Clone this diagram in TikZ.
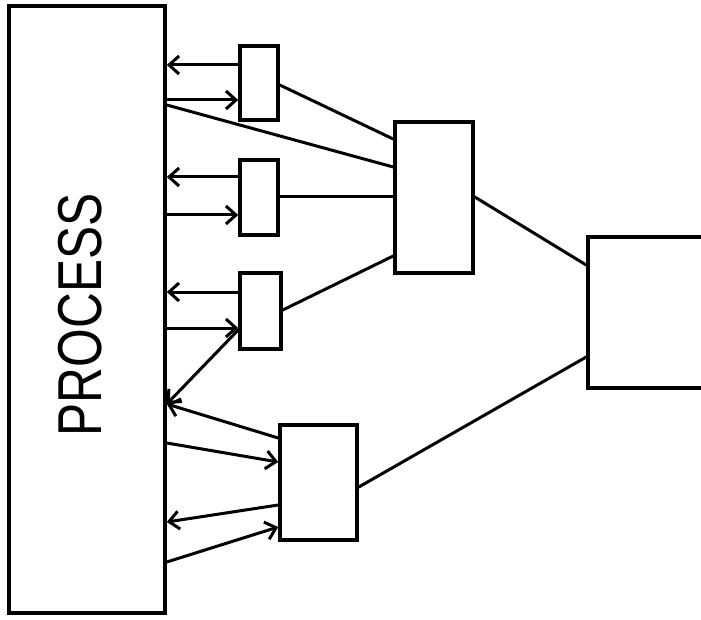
\documentclass[tikz,border=0pt]{standalone}
\usepackage{fontspec}
\setmainfont{Liberation Sans}
\usetikzlibrary{arrows.meta,calc}
\begin{document}
\begin{tikzpicture}[x=1pt,y=-1pt,
  boxnode/.style={draw=black, line width=3.6pt, inner sep=0pt, rectangle},
  conn/.style={line width=3pt, line cap=round},
  arr/.style={conn, -{Straight Barb[length=10pt,width=18pt,line width=3pt]}}]
\useasboundingbox (0,0) rectangle (701,620);
\clip (0,0) rectangle (701,620);
\fill[white] (0,0) rectangle (701,620);
% boxes
\node[boxnode, minimum width=156pt, minimum height=607pt] (proc) at (87,309.5) {};
\node[rotate=90, font=\fontsize{62}{62}\selectfont] (ptext) at (80,315) {\scalebox{0.8}[1]{PROCESS}};
\node[boxnode, minimum width=38pt, minimum height=74pt] (a) at (259,83) {};
\node[boxnode, minimum width=38pt, minimum height=75pt] (b) at (259,197.5) {};
\node[boxnode, minimum width=41pt, minimum height=76pt] (c) at (260.5,311) {};
\node[boxnode, minimum width=77pt, minimum height=115pt] (d) at (318.5,482.5) {};
\node[boxnode, minimum width=78pt, minimum height=151pt] (e) at (434,197.5) {};
\node[boxnode, minimum width=140pt, minimum height=151pt] (f) at (658,312.5) {};
% box a
\draw[arr] (a.west |- 0,65) -- (proc.east |- 0,65);
\draw[arr] (proc.east |- 0,100) -- (a.west |- 0,100);
\draw[conn] (proc.east |- 0,105) -- (e.west |- 0,167);
\draw[conn] (a.east |- 0,85) -- (e.west |- 0,139);
% box b
\draw[arr] (b.west |- 0,177) -- (proc.east |- 0,177);
\draw[arr] (proc.east |- 0,215) -- (b.west |- 0,215);
\draw[conn] (b.east |- 0,197) -- (e.west |- 0,197);
% box c
\draw[arr] (c.west |- 0,292) -- (proc.east |- 0,292);
\draw[arr] (proc.east |- 0,328) -- (c.west |- 0,328);
\draw[conn] (c.east |- 0,310) -- (e.west |- 0,256);
\draw[arr] (c.west |- 0,330) -- (proc.east |- 0,404);
% box d
\draw[arr] (d.west |- 0,438) -- (proc.east |- 0,404);
\draw[arr] (proc.east |- 0,443) -- (d.west |- 0,462);
\draw[arr] (d.west |- 0,505) -- (proc.east |- 0,522);
\draw[arr] (proc.east |- 0,562) -- (d.west |- 0,527);
\draw[conn] (d.east |- 0,487) -- (f.west |- 0,357);
% e to f
\draw[conn] (e.east |- 0,197) -- (f.west |- 0,265);
\end{tikzpicture}
\end{document}
